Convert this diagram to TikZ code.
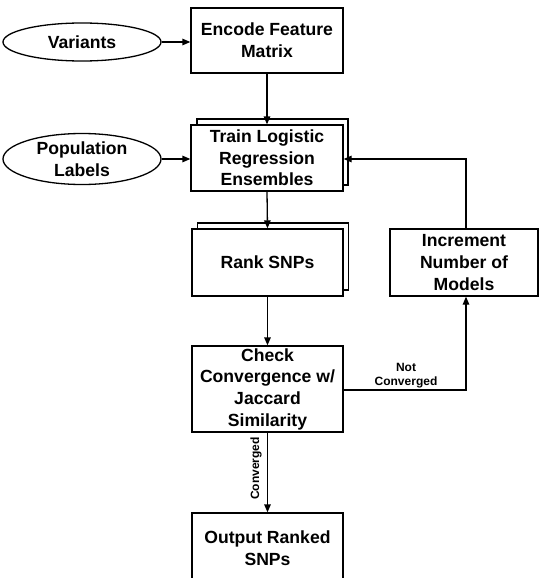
\documentclass[tikz,border=0pt]{standalone}
\usepackage{fontspec}
\setmainfont{Liberation Sans}
\usetikzlibrary{arrows.meta,shapes.geometric,calc}
\begin{document}
\begin{tikzpicture}[x=1pt,y=-1pt,
  every node/.style={font=\fontsize{17.6}{21.7}\selectfont\bfseries, align=center, inner sep=0pt},
  box/.style={draw, line width=1.3pt, rectangle, fill=white},
  oval/.style={draw, line width=1.3pt, ellipse, fill=white},
  conn/.style={line width=1.3pt, -{Triangle[length=8pt,width=6.5pt]}},
  lbl/.style={font=\fontsize{12}{14.3}\selectfont\bfseries}]
\useasboundingbox (0,0) rectangle (539,578);
\begin{scope}
\clip (0,0) rectangle (539,578);
% back copies of stacked boxes
\node[box, minimum width=151pt, minimum height=66pt] (trainback) at (272.5,152) {};
\node[box, minimum width=151pt, minimum height=67pt] (rankback) at (273,256.5) {};
% main nodes
\node[box, minimum width=152pt, minimum height=65pt] (enc) at (267,40.5) {Encode Feature\\Matrix};
\node[box, minimum width=152pt, minimum height=66pt] (train) at (267,158) {Train Logistic\\Regression\\Ensembles};
\node[box, minimum width=151pt, minimum height=67pt] (rank) at (267.5,262.5) {Rank SNPs};
\node[box, minimum width=148pt, minimum height=67pt] (inc) at (464,262.5) {Increment\\Number of\\Models};
\node[box, minimum width=151pt, minimum height=86pt] (check) at (267.5,389) {Check\\Convergence w/\\Jaccard\\Similarity};
\node[box, minimum width=151pt, minimum height=71pt] (out) at (267.5,548.5) {Output Ranked\\SNPs};
\node[oval, minimum width=158pt, minimum height=38pt] (var) at (82,42) {Variants};
\node[oval, minimum width=158pt, minimum height=51pt] (pop) at (82,159) {Population\\Labels};
\coordinate (corner1) at (466,390);
\coordinate (corner2) at (466,159);
% connectors
\draw[conn] (var.east) -- (var.east -| enc.west);
\draw[conn] (pop.east) -- (pop.east -| train.west);
\draw[conn] (enc.south) -- (train.north);
\draw[conn] (train.south) -- (rank.north);
\draw[conn] (rank.south) -- (check.north);
\draw[conn] (check.east |- corner1) -- (corner1) -- (corner1 |- inc.south);
\draw[conn] (corner1 |- inc.north) -- (corner2) -- (corner2 -| train.east);
\draw[conn] (check.south) -- (out.north);
\node[lbl] (notconv) at (406,375.5) {Not\\Converged};
\node[lbl, rotate=90] (conv) at (256,468.5) {Converged};
\end{scope}
\end{tikzpicture}
\end{document}
